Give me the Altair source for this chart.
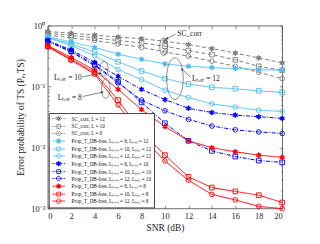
import math
import altair as alt
import pandas as pd

# ---------------- data ----------------
snr = [0, 2, 4, 6, 8, 10, 12, 14, 16, 18, 20]

names = [
    "SC_corr, L = 12",
    "SC_corr, L = 10",
    "SC_corr, L = 8",
    "Prop_T_DB-free, Lₜᵣₐᵢₙ = 8, Lₜₑₛₜ = 12",
    "Prop_T_DB-free, Lₜᵣₐᵢₙ = 10, Lₜₑₛₜ = 12",
    "Prop_T_DB-free, Lₜᵣₐᵢₙ = 12, Lₜₑₛₜ = 12",
    "Prop_T_DB-free, Lₜᵣₐᵢₙ = 8, Lₜₑₛₜ = 10",
    "Prop_T_DB-free, Lₜᵣₐᵢₙ = 10, Lₜₑₛₜ = 10",
    "Prop_T_DB-free, Lₜᵣₐᵢₙ = 12, Lₜₑₛₜ = 10",
    "Prop_T_DB-free, Lₜᵣₐᵢₙ = 8, Lₜₑₛₜ = 8",
    "Prop_T_DB-free, Lₜᵣₐᵢₙ = 10, Lₜₑₛₜ = 8",
    "Prop_T_DB-free, Lₜᵣₐᵢₙ = 12, Lₜₑₛₜ = 8",
]

sc_l12 = [0.80, 0.75, 0.70, 0.65, 0.61, 0.555, 0.49, 0.42, 0.355, 0.295, 0.245]
sc_l10 = [0.75, 0.69, 0.63, 0.57, 0.52, 0.46, 0.39, 0.335, 0.275, 0.215, 0.185]
sc_l8 = [0.70, 0.63, 0.57, 0.50, 0.44, 0.37, 0.315, 0.26, 0.215, 0.172, 0.135]

t12_tr8 = [0.66, 0.54, 0.44, 0.34, 0.28, 0.235, 0.215, 0.205, 0.197, 0.19, 0.185]
t12_tr10 = [0.64, 0.50, 0.37, 0.255, 0.18, 0.135, 0.11, 0.097, 0.092, 0.085, 0.08]
t12_tr12 = [0.63, 0.47, 0.32, 0.19, 0.13, 0.087, 0.066, 0.052, 0.046, 0.041, 0.039]

t10_tr8 = [0.57, 0.40, 0.25, 0.147, 0.09, 0.061, 0.044, 0.0375, 0.034, 0.032, 0.030]
t10_tr10 = [0.56, 0.38, 0.23, 0.12, 0.055, 0.025, 0.0129, 0.0088, 0.0071, 0.0061, 0.0057]
t10_tr12 = [0.55, 0.37, 0.22, 0.115, 0.06, 0.04, 0.029, 0.0225, 0.0195, 0.018, 0.017]

t8_tr8 = [0.47, 0.30, 0.185, 0.09, 0.042, 0.022, 0.0129, 0.0099, 0.0085, 0.0075, 0.0069]
t8_tr10 = [0.46, 0.28, 0.17, 0.06, 0.018, 0.0075, 0.0033, 0.0022, 0.0019, 0.00165, 0.00125]
t8_tr12 = [0.45, 0.27, 0.16, 0.05, 0.015, 0.006, 0.0029, 0.0017, 0.00138, 0.00108, 0.00099]

series_values = [sc_l12, sc_l10, sc_l8, t12_tr8, t12_tr10, t12_tr12,
                 t10_tr8, t10_tr10, t10_tr12, t8_tr8, t8_tr10, t8_tr12]

x_ticks = [0, 2, 4, 6, 8, 10, 12, 14, 16, 18, 20]
y_ticks = [0.001, 0.01, 0.1, 1]
y_minor = [k * 10.0 ** e for e in (-3, -2, -1) for k in range(2, 10)]

# annotations (data units)
ann_text = ["SC_corr", "Lₜₑₛₜ = 12", "Lₜₑₛₜ = 10", "Lₜₑₛₜ = 8"]
ann_x = [11.05, 12.3, 2.9, 2.9]
ann_y = [0.74, 0.132, 0.138, 0.066]
ann_align = ["left", "left", "right", "right"]

ell_x = [9.9, 10.85, 4.8, 4.95]
ell_y = [0.45, 0.135, 0.196, 0.093]

arr_x = [10.9, 12.2, 2.97, 2.97]
arr_y = [0.72, 0.142, 0.144, 0.0686]
arr_x2 = [10.17, 11.44, 4.49, 4.66]
arr_y2 = [0.614, 0.192, 0.165, 0.081]

# ---------------- styles ----------------
GRAY, LBLUE, BLUE, RED = "#7f7f7f", "#4DBEEE", "#0000FF", "#FF0000"
colors = [GRAY] * 3 + [LBLUE] * 3 + [BLUE] * 3 + [RED] * 3
kinds = ["star", "square", "circle"] * 4
fills = [c if k == "star" else "transparent" for c, k in zip(colors, kinds)]
dash_of = {GRAY: [4, 2.5], LBLUE: [1, 0], BLUE: [4, 1.5, 1, 1.5], RED: [1, 0]}
dashes = [dash_of[c] for c in colors]


def star_path(r_out, r_in, n=6):
    pts = []
    for k in range(2 * n):
        ang = -math.pi / 2 + k * math.pi / n
        r = r_out if k % 2 == 0 else r_in
        pts.append((r * math.cos(ang), r * math.sin(ang)))
    return "M" + "L".join(f"{x:.3f},{y:.3f}" for x, y in pts) + "Z"


def marker_path(kind, s):
    if kind == "star":
        return star_path(s * 1.15, s * 0.55)
    if kind == "square":
        q = s * 0.85
        return f"M{-q:.3f},{-q:.3f}L{q:.3f},{-q:.3f}L{q:.3f},{q:.3f}L{-q:.3f},{q:.3f}Z"
    return (f"M{-s:.3f},0A{s:.3f},{s:.3f} 0 1,0 {s:.3f},0"
            f"A{s:.3f},{s:.3f} 0 1,0 {-s:.3f},0Z")


def segs(pairs, k):
    return "".join(f"M{a * k:.3f},0L{b * k:.3f},0" for a, b in pairs)


E = 2.6  # half-length of legend line, in symbol units
line_part = {
    GRAY: segs([(-1, -0.74), (-0.58, -0.34), (-0.18, 0.18), (0.34, 0.58), (0.74, 1)], E),
    LBLUE: segs([(-1, 1)], E),
    BLUE: segs([(-1, -0.76), (-0.66, -0.6), (-0.5, -0.26), (-0.18, 0.18), (0.26, 0.5),
                (0.6, 0.66), (0.76, 1)], E),
    RED: segs([(-1, 1)], E),
}
legend_shapes = [line_part[c] + marker_path(k, 0.9) for c, k in zip(colors, kinds)]
plot_shapes = [star_path(1.15, 0.55) if k == "star" else k for k in kinds]

rows = []
for name, vals in zip(names, series_values):
    for xv, yv in zip(snr, vals):
        rows.append({"snr": xv, "val": yv, "series": name})
df = pd.DataFrame(rows)

W, H = 236, 184
FONT = "Liberation Serif"
xs = alt.Scale(domain=[0, 20], nice=False)
ys = alt.Scale(type="log", domain=[0.001, 1], nice=False)

X = lambda axis=None: alt.X("snr:Q", scale=xs, axis=axis)
Y = lambda axis=None: alt.Y("val:Q", scale=ys, axis=axis)

label_expr = ("datum.value >= 1 ? '10⁰' : datum.value >= 0.1 ? '10⁻¹' : "
              "datum.value >= 0.01 ? '10⁻²' : '10⁻³'")

main_axes = alt.Chart(df).transform_filter("datum.snr < -1").mark_point(opacity=0).encode(
    x=X(alt.Axis(orient="bottom", values=x_ticks, title="SNR (dB)", grid=False, ticks=False,
                 domain=False, labelFont=FONT, labelFontSize=8.5, labelColor="#222",
                 labelPadding=3, titleFont=FONT, titleFontSize=9.5, titleFontWeight="normal",
                 titleColor="#222", titlePadding=3)),
    y=Y(alt.Axis(orient="left", values=y_ticks, labelExpr=label_expr, title="Error probability of TS (Pₑ,TS)",
                 grid=False, ticks=False, domain=False, labelFont=FONT, labelFontSize=8.5,
                 labelColor="#222", labelPadding=3, titleFont=FONT, titleFontSize=9.5,
                 titleFontWeight="normal", titleColor="#222", titlePadding=5)),
)


def tick_axis(orient, offset, values, size):
    return alt.Axis(orient=orient, offset=offset, values=values, labels=False, domain=False,
                    ticks=True, tickSize=size, tickColor="#444", tickWidth=0.6, grid=False, title=None)


holder1 = alt.Chart(df).transform_filter("datum.snr < -1").mark_point(opacity=0).encode(
    x=X(tick_axis("top", -H, x_ticks, 3)), y=Y(tick_axis("right", -W, y_ticks, 3)))
holder2 = alt.Chart(df).transform_filter("datum.snr < -1").mark_point(opacity=0).encode(
    x=X(tick_axis("bottom", -H, x_ticks, 3)), y=Y(tick_axis("left", -W, y_ticks, 3)))
holder3 = alt.Chart(df).transform_filter("datum.snr < -1").mark_point(opacity=0).encode(
    x=X(), y=Y(tick_axis("right", -W, y_minor, 1.6)))
holder4 = alt.Chart(df).transform_filter("datum.snr < -1").mark_point(opacity=0).encode(
    x=X(), y=Y(tick_axis("left", -W, y_minor, 1.6)))

lines = alt.Chart(df).mark_line(strokeWidth=1).encode(
    x=X(), y=Y(),
    stroke=alt.Stroke("series:N", scale=alt.Scale(domain=names, range=colors), legend=None),
    strokeDash=alt.StrokeDash("series:N", scale=alt.Scale(domain=names, range=dashes), legend=None),
)

points = alt.Chart(df).mark_point(size=22, strokeWidth=0.9, opacity=1).encode(
    x=X(), y=Y(),
    stroke=alt.Stroke("series:N", scale=alt.Scale(domain=names, range=colors), legend=None),
    fill=alt.Fill("series:N", scale=alt.Scale(domain=names, range=fills), legend=None),
    shape=alt.Shape("series:N", scale=alt.Scale(domain=names, range=plot_shapes), legend=None),
)

leg = alt.Legend(title=None, orient="bottom-left", offset=1, symbolSize=25, symbolStrokeWidth=0.8,
                 symbolOffset=4.5, labelFont=FONT, labelFontSize=5.2, labelColor="#111", labelOffset=10,
                 rowPadding=-1.3, padding=2.5, strokeColor="#444", fillColor="white", labelLimit=200)
legend_layer = alt.Chart(df).transform_filter("datum.snr < -1").mark_point(opacity=1).encode(
    x=X(), y=Y(),
    stroke=alt.Stroke("series:N", scale=alt.Scale(domain=names, range=colors), legend=leg),
    fill=alt.Fill("series:N", scale=alt.Scale(domain=names, range=fills), legend=leg),
    shape=alt.Shape("series:N", scale=alt.Scale(domain=names, range=legend_shapes), legend=leg),
)

ann_df = pd.DataFrame({"snr": ann_x, "val": ann_y, "txt": ann_text, "al": ann_align})
texts_left = alt.Chart(ann_df).transform_filter("datum.al == 'left'").mark_text(
    align="left", baseline="middle", font=FONT, fontSize=7.5, color="#222").encode(
    x=X(), y=Y(), text="txt:N")
texts_right = alt.Chart(ann_df).transform_filter("datum.al == 'right'").mark_text(
    align="right", baseline="middle", font=FONT, fontSize=7.5, color="#222").encode(
    x=X(), y=Y(), text="txt:N")

ell_df = pd.DataFrame({"snr": ell_x, "val": ell_y, "i": [0, 1, 2, 3]})


def ellipse(rx):
    return f"M0,-1A{rx},1 0 1,1 0,1A{rx},1 0 1,1 0,-1Z"


ell_specs = [(0.45, 324), (0.4, 1764), (0.55, 225), (0.42, 400)]
ellipses = [
    alt.Chart(ell_df).transform_filter(f"datum.i == {i}").mark_point(
        shape=ellipse(rx), size=sz, stroke="#444", strokeWidth=0.6, fill="transparent", opacity=1
    ).encode(x=X(), y=Y())
    for i, (rx, sz) in enumerate(ell_specs)
]

arr_df = pd.DataFrame({"snr": arr_x, "val": arr_y, "snr2": arr_x2, "val2": arr_y2, "i": [0, 1, 2, 3]})
arrows = alt.Chart(arr_df).mark_rule(color="#333", strokeWidth=0.6).encode(
    x=X(), y=Y(), x2="snr2:Q", y2="val2:Q")
angles = [153, 222, 350, 349]
heads = [
    alt.Chart(arr_df).transform_filter(f"datum.i == {i}").mark_point(
        shape="triangle-right", size=7, filled=True, color="#333", angle=a, opacity=1
    ).encode(x=alt.X("snr2:Q", scale=xs, axis=None), y=alt.Y("val2:Q", scale=ys, axis=None))
    for i, a in enumerate(angles)
]

chart = alt.layer(
    main_axes, holder1, holder2, holder3, holder4,
    lines, points, *ellipses, arrows, *heads, texts_left, texts_right, legend_layer
).resolve_scale(
    stroke="independent", fill="independent", shape="independent", strokeDash="independent"
).resolve_axis(
    x="independent", y="independent"
).properties(
    width=W, height=H,
    autosize=alt.AutoSizeParams(type="none"),
    padding={"left": 40, "top": 17, "right": 30, "bottom": 26},
).configure_view(stroke="#444", strokeWidth=0.8)

chart.save("out.html", embed_options={"renderer": "svg", "actions": False})
